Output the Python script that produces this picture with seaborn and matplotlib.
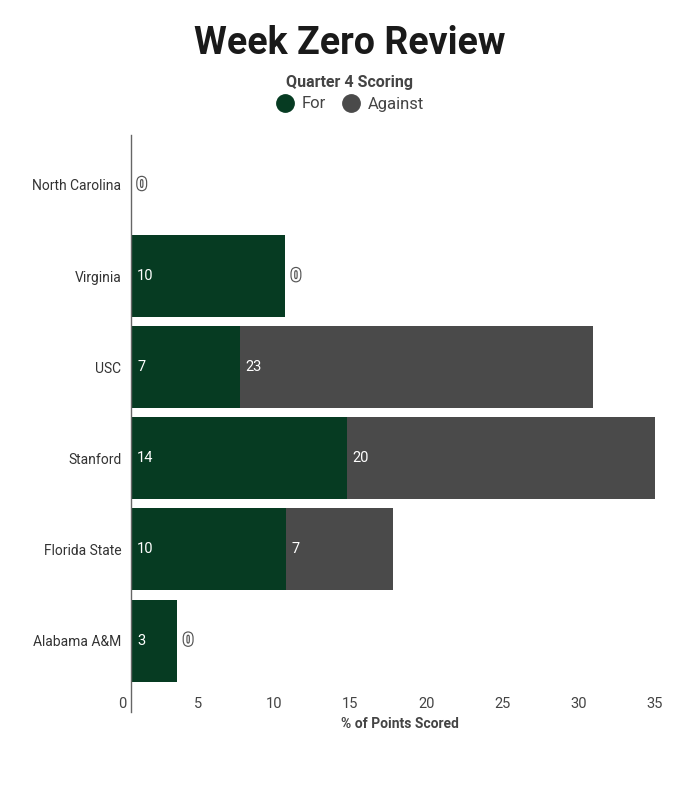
import matplotlib
matplotlib.use("Agg")
import matplotlib.pyplot as plt
import matplotlib.patheffects as pe
from matplotlib.lines import Line2D
import seaborn as sns
import pandas as pd

teams = ["North Carolina", "Virginia", "USC", "Stanford", "Florida State", "Alabama A&M"]
points_for = [0.0, 10.3, 7.3, 14.4, 10.35, 3.1]
points_against = [0.0, 0.0, 23.55, 20.6, 7.13, 0.0]
x_ticks = [0, 5, 10, 15, 20, 25, 30, 35]

GREEN = "#063b22"
GREY = "#4a4a4a"

sns.set_style("white")
plt.rcParams["font.family"] = ["Roboto", "DejaVu Sans"]

df = pd.DataFrame({"team": teams, "for": points_for, "against": points_against})
df["total"] = df["for"] + df["against"]

fig = plt.figure(figsize=(7, 8), dpi=100)
ax = fig.add_axes([122 / 700, 1 - 712 / 800, (655 - 122) / 700, (712 - 135) / 800])

sns.barplot(data=df, x="total", y="team", color=GREY, width=0.9, ax=ax, orient="h",
            saturation=1, order=teams, linewidth=0)
sns.barplot(data=df, x="for", y="team", color=GREEN, width=0.9, ax=ax, orient="h",
            saturation=1, order=teams, linewidth=0)

ax.set_xlim(-0.6, 35)
ax.set_ylim(5.784, -0.548)

for s in ["top", "right", "bottom"]:
    ax.spines[s].set_visible(False)
ax.spines["left"].set_position(("data", 0))
ax.spines["left"].set_color("#666666")
ax.spines["left"].set_linewidth(1.0)

# tick labels placed on the label scale of the original chart
ax.set_xticks([-0.6 + v * 35.6 / 35 for v in x_ticks])
ax.set_xticklabels([str(v) for v in x_ticks])
ax.tick_params(axis="x", length=0, pad=-11, labelsize=10.5, labelcolor="#444444")
ax.tick_params(axis="y", length=0, pad=7, labelsize=10, labelcolor="#333333")
ax.set_ylabel("")
ax.set_xlabel("")
fig.text(400 / 700, 1 - 724 / 800, "% of Points Scored", ha="center", va="center",
         fontsize=10, fontweight="bold", color="#444444")

outline = [pe.Stroke(linewidth=1.7, foreground="#555555"), pe.Normal()]
for i, (f, a) in enumerate(zip(points_for, points_against)):
    if f > 0:
        ax.annotate(str(int(f)), xy=(0, i), xytext=(4.5, 0), textcoords="offset points",
                    ha="left", va="center", color="white", fontsize=10.5)
    if a > 0:
        ax.annotate(str(int(a)), xy=(f, i), xytext=(4.0, 0), textcoords="offset points",
                    ha="left", va="center", color="white", fontsize=10.5)
    else:
        ax.annotate("0", xy=(f + a, i), xytext=(4, 0), textcoords="offset points",
                    ha="left", va="center", color="white", fontsize=13, fontweight="bold",
                    path_effects=outline)

fig.text(0.5, 1 - 43 / 800, "Week Zero Review", ha="center", va="center",
         fontsize=27, fontweight="bold", color="#1a1a1a")
fig.text(0.5, 1 - 82 / 800, "Quarter 4 Scoring", ha="center", va="center",
         fontsize=11.5, fontweight="bold", color="#444444")

handles = [Line2D([], [], marker="o", linestyle="", markersize=12.5, color=GREEN),
           Line2D([], [], marker="o", linestyle="", markersize=12.5, color=GREY)]
fig.legend(handles, ["For", "Against"], loc="center", bbox_to_anchor=(0.5, 1 - 104 / 800),
           ncol=2, frameon=False, fontsize=12, handletextpad=0.5, columnspacing=1.0,
           labelcolor="#444444", handlelength=1.0)

fig.savefig("out.png", dpi=100, facecolor="white")
